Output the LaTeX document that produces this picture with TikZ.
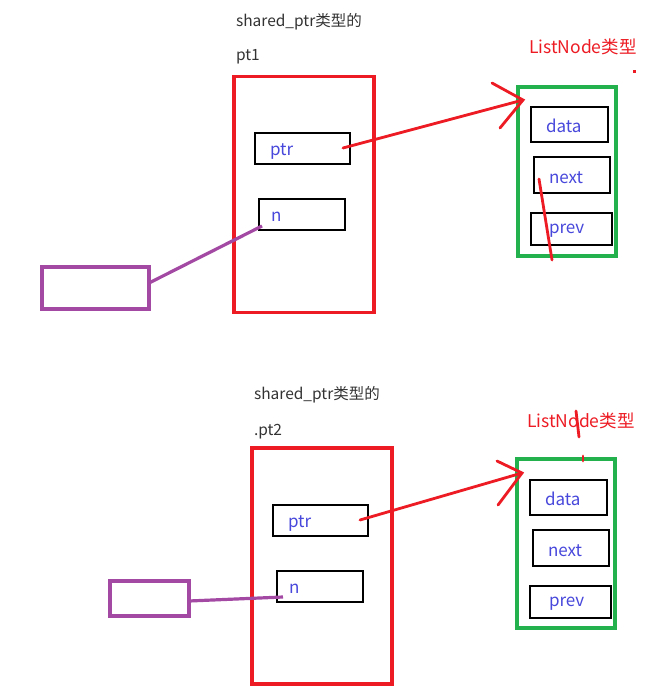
\documentclass[tikz,border=0pt]{standalone}
\usepackage{fontspec}
\setmainfont{Noto Sans CJK SC}
\begin{document}
\begin{tikzpicture}[x=1pt,y=-1pt,
  every node/.style={inner sep=0pt,outer sep=0pt},
  ptrbox/.style={draw=pred,line width=3.2pt,rectangle},
  fieldbox/.style={draw=black,line width=2.8pt,rectangle},
  nodebox/.style={draw=pgreen,line width=3.2pt,rectangle},
  extbox/.style={draw=ppurple,line width=3.2pt,rectangle},
  title/.style={text=tgray,font=\fontsize{15.5}{18}\selectfont,anchor=west},
  field/.style={text=tblue,font=\fontsize{17}{20}\selectfont,anchor=west},
  redlabel/.style={text=pred,font=\fontsize{17.5}{20}\selectfont,anchor=west},
  redline/.style={draw=pred,line width=2.8pt,line cap=round},
  purpleline/.style={draw=ppurple,line width=3.2pt}]
\definecolor{pred}{RGB}{237,28,36}
\definecolor{pgreen}{RGB}{34,177,76}
\definecolor{ppurple}{RGB}{163,73,164}
\definecolor{tgray}{RGB}{51,51,51}
\definecolor{tblue}{RGB}{72,72,220}
\useasboundingbox[fill=white] (0,0) rectangle (656,695);

% ---------- first shared_ptr (pt1) ----------
\node[title] (t1) at (236,22) {shared\_ptr类型的};
\node[title] (t1b) at (236,57) {pt1};
\node[ptrbox,minimum width=140,minimum height=236] (pt1) at (304,194.5) {};
\node[fieldbox,minimum width=95,minimum height=31] (ptr1) at (302.5,148.5) {};
\node[field] (ptr1l) at (270,152) {ptr};
\node[fieldbox,minimum width=86,minimum height=31] (n1) at (302,214.5) {};
\node[field] (n1l) at (271,217) {n};

\node[redlabel] (ln1) at (529,47) {ListNode类型};
\fill[pred] (633,70) rectangle (636,73);
\node[nodebox,minimum width=98,minimum height=169] (g1) at (567,171.5) {};
\node[fieldbox,minimum width=77,minimum height=35] (d1) at (569.5,124.5) {};
\node[field] (d1l) at (546,126) {data};
\node[fieldbox,minimum width=76,minimum height=36] (nx1) at (572,175) {};
\node[field] (nx1l) at (549,178) {next};
\node[fieldbox,minimum width=81,minimum height=32] (pv1) at (571.5,229) {};
\node[field] (pv1l) at (549,231) {prev};

\node[extbox,minimum width=107,minimum height=42] (e1) at (95.5,288) {};

% pointer from ptr to the ListNode
\coordinate (a1s) at (343,148);
\coordinate (a1t) at (523,100);
\coordinate (a1u) at (492,83);
\coordinate (a1d) at (500,128);
\draw[redline] (a1s) -- (a1t);
\draw[redline] (a1u) -- (a1t) -- (a1d);
% stroke across next / prev
\coordinate (s1a) at (539,179);
\coordinate (s1b) at (552,260);
\draw[redline] (s1a) -- (s1b);
% link from the outside box to n
\coordinate (p1a) at (149,283);
\coordinate (p1b) at (262,226);
\draw[purpleline] (p1a) -- (p1b);

% ---------- second shared_ptr (pt2) ----------
\node[title] (t2) at (254,395) {shared\_ptr类型的};
\node[title] (t2b) at (254,432) {.pt2};
\node[ptrbox,minimum width=140,minimum height=236] (pt2) at (322,566) {};
\node[fieldbox,minimum width=95,minimum height=31] (ptr2) at (320.5,520.5) {};
\node[field] (ptr2l) at (288,524) {ptr};
\node[fieldbox,minimum width=86,minimum height=31] (n2) at (320,586.5) {};
\node[field] (n2l) at (289,589) {n};

\node[redlabel] (ln2) at (527,421) {ListNode类型};
\node[nodebox,minimum width=98,minimum height=169] (g2) at (566,543.5) {};
\node[fieldbox,minimum width=77,minimum height=35] (d2) at (568.5,497.5) {};
\node[field] (d2l) at (545,499) {data};
\node[fieldbox,minimum width=76,minimum height=36] (nx2) at (571,548) {};
\node[field] (nx2l) at (548,551) {next};
\node[fieldbox,minimum width=81,minimum height=32] (pv2) at (570.5,602) {};
\node[field] (pv2l) at (549,604) {prev};

\node[extbox,minimum width=79,minimum height=35] (e2) at (149.5,598.5) {};

\coordinate (a2s) at (360,520);
\coordinate (a2t) at (522,473);
\coordinate (a2u) at (497,461);
\coordinate (a2d) at (498,505);
\draw[redline] (a2s) -- (a2t);
\draw[redline] (a2u) -- (a2t) -- (a2d);
% small marks near the label
\coordinate (m2a) at (576,411);
\coordinate (m2b) at (579,437);
\draw[redline] (m2a) -- (m2b);
\coordinate (m2c) at (583,456);
\coordinate (m2d) at (583,461);
\draw[redline] (m2c) -- (m2d);

\coordinate (p2a) at (189,601);
\coordinate (p2b) at (283,597);
\draw[purpleline] (p2a) -- (p2b);
\end{tikzpicture}
\end{document}
